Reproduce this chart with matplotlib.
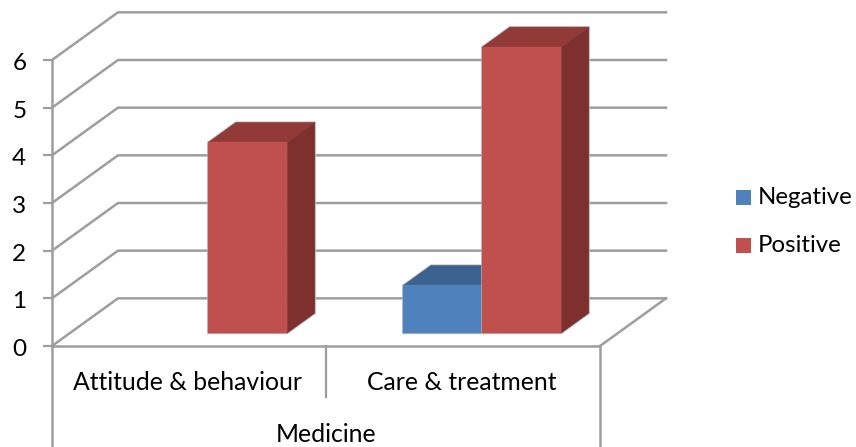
import matplotlib
matplotlib.use('Agg')
import matplotlib.pyplot as plt
from matplotlib.patches import Polygon, Rectangle
from matplotlib.transforms import ScaledTranslation

categories = ['Attitude & behaviour', 'Care & treatment']
group_label = 'Medicine'
series_names = ['Negative', 'Positive']
negative = [0, 1]
positive = [4, 6]
y_ticks = [0, 1, 2, 3, 4, 5, 6]

GRID = '#9e9e9e'
FRONT = ['#4f81bd', '#c0504d']
TOP = ['#3c6390', '#913a38']
SIDE = ['#2f4f75', '#7d302e']

# oblique depth of the box, in data units
DEPTH_X = 66 / 274
DEPTH_Y = 1.0
BAR_W = 0.288
FLOOR = 0.27  # how far back the bars stand on the floor
BAR_D = 0.42  # bar depth as share of box depth
BAR_SHIFT = 0.005

plt.rcParams['font.family'] = ['Lato', 'DejaVu Sans']


def draw_bar(ax, x, value, idx):
    x0 = x + FLOOR * DEPTH_X + BAR_SHIFT
    base = FLOOR * DEPTH_Y
    dx = BAR_D * DEPTH_X
    dy = BAR_D * DEPTH_Y
    top = base + value
    x1 = x0 + BAR_W
    # soft grey outline behind the faces
    ax.add_patch(Polygon([(x0, base), (x1, base), (x1 + dx, base + dy), (x1 + dx, top + dy),
                          (x0 + dx, top + dy), (x0, top)],
                         facecolor='none', edgecolor='#b8b8b8', lw=1.4, clip_on=False, zorder=idx + 3))
    ax.add_patch(Polygon([(x0, top), (x1, top), (x1 + dx, top + dy), (x0 + dx, top + dy)],
                         facecolor=TOP[idx], edgecolor=TOP[idx], lw=0.3, clip_on=False, zorder=idx + 3.2))
    ax.add_patch(Polygon([(x1, base), (x1 + dx, base + dy), (x1 + dx, top + dy), (x1, top)],
                         facecolor=SIDE[idx], edgecolor=SIDE[idx], lw=0.3, clip_on=False, zorder=idx + 3.2))
    ax.bar(x0, value, BAR_W, bottom=base, align='edge', color=FRONT[idx],
           edgecolor=FRONT[idx], linewidth=0.3, clip_on=False, zorder=idx + 3.5)


fig = plt.figure(figsize=(8.56, 4.47), dpi=100)
ax = fig.add_axes([52 / 856, 101 / 447, 548 / 856, 286 / 447])
ax.set_xlim(-0.5, 1.5)
ax.set_ylim(0, 6)
ax.patch.set_alpha(0)

for s in ['top', 'right']:
    ax.spines[s].set_visible(False)
for s in ['left', 'bottom']:
    ax.spines[s].set_color(GRID)
    ax.spines[s].set_linewidth(1.8)

ax.set_yticks(y_ticks)
ax.tick_params(axis='y', length=6.5, width=1.6, color=GRID, labelsize=17.5, pad=12)
ax.set_xticks([])
nudge = ScaledTranslation(0, -1.5 / 100, fig.dpi_scale_trans)
for label in ax.get_yticklabels():
    label.set_transform(label.get_transform() + nudge)

# back wall and left wall lines
for v in y_ticks:
    ax.plot([-0.5, -0.5 + DEPTH_X, 1.5 + DEPTH_X], [v, v + DEPTH_Y, v + DEPTH_Y],
            color=GRID, lw=1.8, clip_on=False, zorder=1)
ax.plot([1.5, 1.5 + DEPTH_X], [0, DEPTH_Y], color=GRID, lw=1.8, clip_on=False, zorder=1)

for i, cat in enumerate(categories):
    if negative[i] > 0:
        draw_bar(ax, i - BAR_W, negative[i], 0)
    if positive[i] > 0:
        draw_bar(ax, i, positive[i], 1)

# two level category axis
trans = ax.get_xaxis_transform()
ax.plot([-0.5, -0.5], [0, -0.354], transform=trans, color=GRID, lw=1.8, clip_on=False)
ax.plot([0.5, 0.5], [0, -0.18], transform=trans, color=GRID, lw=1.6, clip_on=False)
ax.plot([1.5, 1.5], [0, -0.354], transform=trans, color=GRID, lw=1.8, clip_on=False)
for i, cat in enumerate(categories):
    ax.text(i - 0.005, -0.128, cat, transform=trans, ha='center', va='center', fontsize=17.8)
ax.text(0.5, -0.308, group_label, transform=trans, ha='center', va='center', fontsize=17.8)

# legend
for name, color, y in zip(series_names, FRONT, [197.5, 245.5]):
    fig.patches.append(Rectangle((736 / 856, 1 - (y + 7.5) / 447), 15 / 856, 15 / 447,
                                 transform=fig.transFigure, facecolor=color, edgecolor='none'))
    fig.text(758 / 856, 1 - y / 447, name, ha='left', va='center', fontsize=17.3)

fig.savefig('out.png', dpi=100)
